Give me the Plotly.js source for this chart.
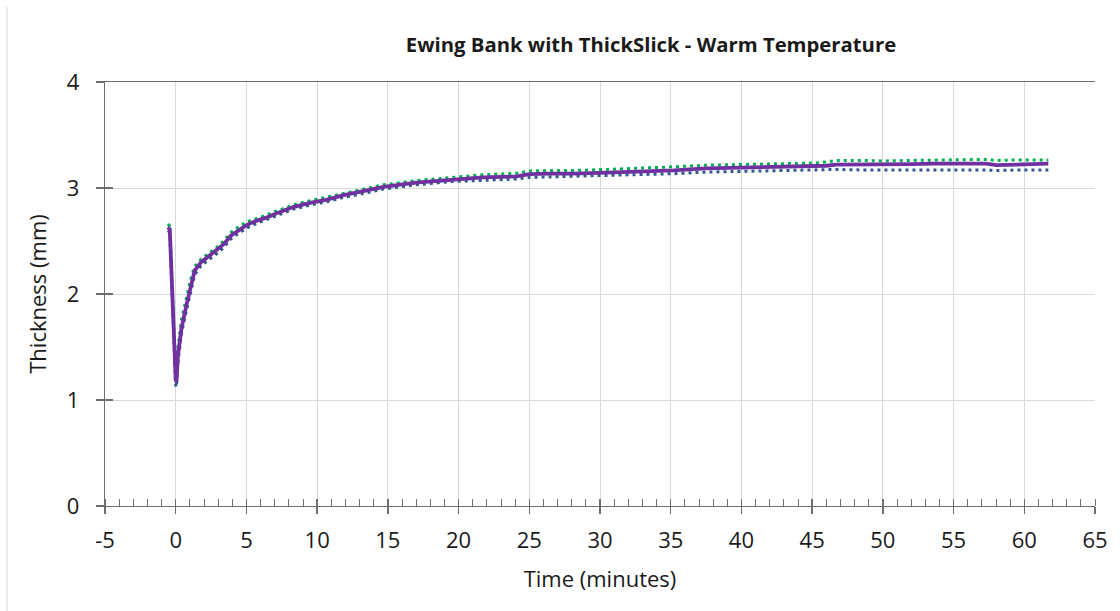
<!DOCTYPE html>
<html>
<head>
<meta charset="utf-8">
<script src="https://cdn.plot.ly/plotly-3.0.1.min.js"></script>
<style>html,body{margin:0;padding:0;background:#fff;}#chart{width:1120px;height:611px;}</style>
</head>
<body>
<div id="chart"></div>
<script>
// Time in minutes
var timeMin = [-0.55, -0.42, 0.0, 0.05, 0.16, 0.40, 0.75, 1.1, 1.34, 1.8, 2.4, 3.0, 3.4, 3.9, 4.3, 5.0, 5.7, 6.4, 7.1, 8.3, 9.5, 10.7, 11.8, 13.0, 14.7, 17.0, 19.4, 21.7, 24.1, 25.0, 26.4, 28.1, 30.5, 32.8, 34.0, 35.2, 37.5, 40.0, 42.5, 45.1, 46.0, 46.7, 48.5, 50.0, 52.0, 53.6, 55.5, 57.3, 58.0, 59.5, 61.7];
// Upper (green dotted)
var upperMm = [2.66, 2.64, 1.24, 1.22, 1.50, 1.75, 1.96, 2.16, 2.26, 2.33, 2.39, 2.45, 2.50, 2.58, 2.62, 2.68, 2.71, 2.745, 2.78, 2.84, 2.88, 2.915, 2.95, 2.985, 3.03, 3.07, 3.10, 3.125, 3.14, 3.16, 3.165, 3.165, 3.175, 3.185, 3.19, 3.20, 3.215, 3.22, 3.225, 3.235, 3.245, 3.26, 3.26, 3.255, 3.26, 3.265, 3.27, 3.27, 3.26, 3.265, 3.265];
// Lower (blue dotted)
var lowerMm = [2.60, 2.58, 1.14, 1.12, 1.36, 1.62, 1.84, 2.06, 2.18, 2.27, 2.33, 2.39, 2.44, 2.52, 2.56, 2.62, 2.665, 2.70, 2.735, 2.80, 2.84, 2.87, 2.91, 2.94, 2.99, 3.03, 3.06, 3.075, 3.085, 3.10, 3.105, 3.105, 3.115, 3.125, 3.13, 3.135, 3.15, 3.155, 3.16, 3.165, 3.17, 3.175, 3.17, 3.17, 3.17, 3.175, 3.17, 3.17, 3.165, 3.17, 3.17];
// Average (purple solid)
var meanMm = [2.63, 2.61, 1.19, 1.17, 1.42, 1.67, 1.89, 2.11, 2.22, 2.30, 2.36, 2.42, 2.47, 2.55, 2.59, 2.65, 2.69, 2.72, 2.76, 2.82, 2.86, 2.89, 2.93, 2.96, 3.01, 3.05, 3.08, 3.10, 3.11, 3.13, 3.135, 3.135, 3.145, 3.155, 3.16, 3.167, 3.185, 3.19, 3.195, 3.20, 3.21, 3.22, 3.22, 3.22, 3.225, 3.23, 3.23, 3.23, 3.215, 3.22, 3.23];

var xTickVals = [-5, 0, 5, 10, 15, 20, 25, 30, 35, 40, 45, 50, 55, 60, 65];
var xTickText = ["-5", "0", "5", "10", "15", "20", "25", "30", "35", "40", "45", "50", "55", "60", "65"];
var yTickVals = [0, 1, 2, 3, 4];

var chartTitle = "Ewing Bank with ThickSlick - Warm Temperature";
var xTitle = "Time (minutes)";
var yTitle = "Thickness (mm)";

var FONT = "Open Sans, Segoe UI, sans-serif";
var TXT = "#1a1a1a";
var AX = "#6e6e6e";

var traces = [
  {x: timeMin, y: upperMm, mode: "lines", type: "scatter", line: {color: "#00b050", width: 3, dash: "3px,4px"}, hoverinfo: "skip"},
  {x: timeMin, y: lowerMm, mode: "lines", type: "scatter", line: {color: "#2e5a8e", width: 3, dash: "3px,4px"}, hoverinfo: "skip"},
  {x: timeMin, y: meanMm, mode: "lines", type: "scatter", line: {color: "#7030a0", width: 3.8}, hoverinfo: "skip"}
];

var layout = {
  width: 1120, height: 611,
  margin: {l: 105, r: 25, t: 82, b: 105},
  paper_bgcolor: "#fff", plot_bgcolor: "#fff",
  showlegend: false,
  font: {family: FONT, color: TXT, size: 20},
  title: {text: "<b>" + chartTitle + "</b>", font: {family: FONT, size: 20.3, color: TXT},
          xref: "paper", x: 0.5515, xanchor: "center", yref: "container", y: 1 - 45/611, yanchor: "middle"},
  xaxis: {
    range: [-5, 65], tickmode: "array", tickvals: xTickVals, ticktext: xTickText, fixedrange: true,
    showgrid: true, gridcolor: "#d9d9d9", gridwidth: 1, zeroline: false,
    showline: true, linecolor: AX, linewidth: 1.3, mirror: true,
    ticks: "outside", ticklen: 7, tickcolor: AX, tickwidth: 1.3,
    minor: {ticks: "inside", ticklen: 7, dtick: 1, tick0: 0, tickcolor: AX, tickwidth: 1, showgrid: false},
    ticklabelstandoff: 7,
    tickfont: {family: FONT, size: 22, color: TXT},
    title: {text: xTitle, font: {family: FONT, size: 22, color: TXT}, standoff: 19}
  },
  xaxis2: {
    range: [-5, 65], tickmode: "array", tickvals: xTickVals, overlaying: "x", anchor: "y", side: "bottom",
    showgrid: false, zeroline: false, showline: false, showticklabels: false,
    ticks: "inside", ticklen: 7, tickcolor: AX, tickwidth: 1.3, fixedrange: true
  },
  yaxis: {
    range: [0, 4], tickmode: "array", tickvals: yTickVals, fixedrange: true,
    showgrid: true, gridcolor: "#d9d9d9", gridwidth: 1, zeroline: false,
    showline: true, linecolor: AX, linewidth: 1.3,
    ticks: "outside", ticklen: 8, tickcolor: AX, tickwidth: 1.3,
    ticklabelstandoff: 12,
    tickfont: {family: FONT, size: 22, color: TXT},
    title: {text: yTitle, font: {family: FONT, size: 22, color: TXT}, standoff: 14}
  },
  yaxis2: {
    range: [0, 4], tickmode: "array", tickvals: yTickVals, overlaying: "y", anchor: "x", side: "left",
    showgrid: false, zeroline: false, showline: false, showticklabels: false,
    ticks: "inside", ticklen: 8, tickcolor: AX, tickwidth: 1.3, fixedrange: true
  },
  shapes: [
    {type: "line", xref: "paper", yref: "paper", x0: -0.099, x1: -0.099, y0: -0.25, y1: 1.177,
     line: {color: "#d9d9d9", width: 1}}
  ]
};

traces.push({x: [null], y: [null], xaxis: "x2", yaxis: "y2", mode: "lines", showlegend: false, hoverinfo: "skip"});

Plotly.newPlot("chart", traces, layout, {staticPlot: true, displayModeBar: false});
</script>
</body>
</html>
